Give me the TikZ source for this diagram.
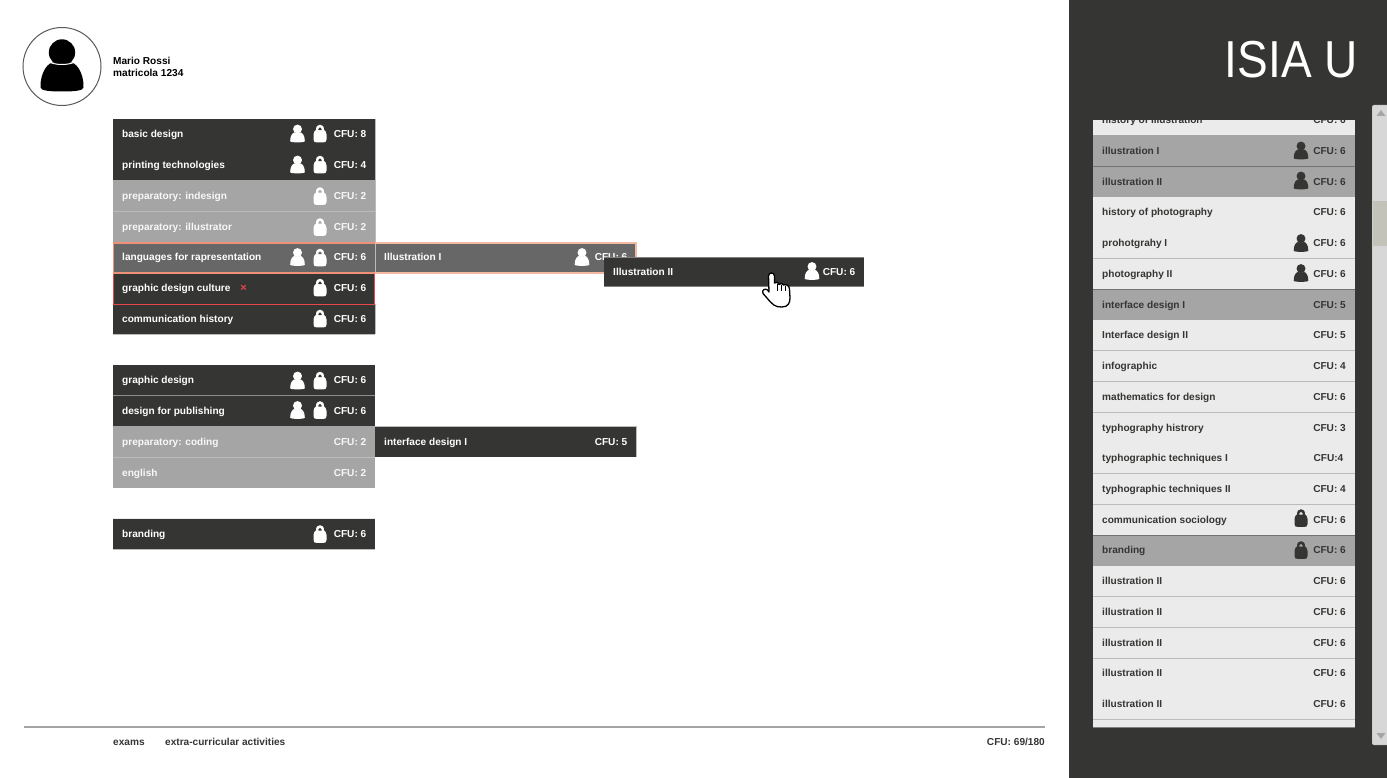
\documentclass[tikz,border=0pt]{standalone}
\usepackage{graphicx}
\usepackage{fontspec}
\setmainfont{Liberation Sans}
\definecolor{dk}{HTML}{353533}
\definecolor{gr}{HTML}{A5A5A5}
\definecolor{md}{HTML}{676767}
\definecolor{lt}{HTML}{EBEBEB}
\definecolor{ln}{HTML}{BBBBBB}
\definecolor{org}{HTML}{EE9178}
\definecolor{orl}{HTML}{F5B8A2}
\definecolor{rd}{HTML}{E8474A}
\tikzset{
  lbl/.style={inner sep=0pt,anchor=base west,font=\fontsize{10.1}{12}\bfseries},
  cfu/.style={inner sep=0pt,anchor=base east,font=\fontsize{10.1}{12}\bfseries},
  foot/.style={lbl,text=dk},
}
% person icon: x y scale colour
\newcommand\personicon[4]{%
  \begin{scope}[shift={(#1,#2)},scale=#3]
    \fill[#4] (-21.5,22) .. controls (-22,6) and (-13,-4) .. (-8,-3) .. controls (-3,0) and (3,0) .. (8,-3)
       .. controls (13,-4) and (22,6) .. (21.5,22) .. controls (21.5,25.5) and (10,26) .. (0,26) .. controls (-10,26) and (-21.5,25.5) .. (-21.5,22) -- cycle;
    \fill[#4] (0,-13) circle (13.2);
  \end{scope}}
% lock icon: x y colour hole-colour
\newcommand\lockicon[4]{%
  \fill[#3] (#1-6.5,#2+6) .. controls (#1-6.5,#2+8.8) and (#1-5,#2+8.8) .. (#1-3.5,#2+8.8) -- (#1+3.5,#2+8.8)
     .. controls (#1+5,#2+8.8) and (#1+6.5,#2+8.8) .. (#1+6.5,#2+6) -- (#1+6.5,#2+1)
     .. controls (#1+6.5,#2-1.5) and (#1+5,#2-3) .. (#1+4,#2-3.5)
     .. controls (#1+4,#2-7) and (#1+2.5,#2-8.8) .. (#1,#2-8.8)
     .. controls (#1-2.5,#2-8.8) and (#1-4,#2-7) .. (#1-4,#2-3.5)
     .. controls (#1-5,#2-3) and (#1-6.5,#2-1.5) .. (#1-6.5,#2+1) -- cycle;
  \fill[#4] (#1-1.6,#2-3.4) -- (#1-1.6,#2-4.6) .. controls (#1-1.6,#2-6.5) and (#1+1.6,#2-6.5) .. (#1+1.6,#2-4.6) -- (#1+1.6,#2-3.4) -- cycle;}
% row: name x-left y-top x-right y-bottom fill text-colour label cfu
\newcommand\rowbox[9]{%
  \fill[#6] (#2,#3) rectangle (#4,#5);
  \node[lbl,text=#7] (#1l) at (#2+9,{(#3+#5)/2+3.5}) {#8};
  \node[cfu,text=#7] (#1c) at (#4-8.5,{(#3+#5)/2+3.5}) {#9};}
% panel row: name centre-y label cfu
\newcommand\prow[4]{%
  \node[lbl,text=dk] (#1l) at (1102,#2+3.5) {#3};
  \node[cfu,text=dk] (#1c) at (1346,#2+3.5) {#4};}
\begin{document}
\begin{tikzpicture}[x=1pt,y=-1pt,line cap=butt]
\useasboundingbox (0,0) rectangle (1387,778);
\fill[white] (0,0) rectangle (1387,778);
% right panel
\fill[dk] (1069,0) rectangle (1387,778);
\node[inner sep=0pt,anchor=base east,text=white,font=\fontsize{52}{52}\selectfont] (logo) at (1358,78) {\scalebox{.885}[1]{ISIA U}};
% scrollbar
\fill[rounded corners=2pt,fill=ln!70!white] (1372,105) rectangle (1392,745);
\fill[fill=ln!70!white!85!white] (1373,106) rectangle (1387,744);
\fill[fill=black!28!white!95!yellow] (1373,201) rectangle (1387,246);
\fill[gr] (1376.5,116) -- (1381,110) -- (1385.5,116) -- cycle;
\fill[gr] (1376.5,733) -- (1381,739) -- (1385.5,733) -- cycle;
% panel list
\begin{scope}
\clip (1093,120) rectangle (1355,727.5);
\fill[lt] (1093,120) rectangle (1355,727);
\fill[gr] (1093,135.5) rectangle (1355,197);
\fill[gr] (1093,289.5) rectangle (1355,320);
\fill[gr] (1093,535.5) rectangle (1355,566);
\foreach \yy in {258,289,350,381,412,473,504,535,596,627,658,719}
  \draw[ln,line width=.8pt] (1093,\yy+.5) -- (1355,\yy+.5);
\draw[black!55,line width=.8pt] (1093,166.3) -- (1355,166.3);
\draw[black!55,line width=.8pt] (1093,289.5) -- (1355,289.5);
\draw[black!55,line width=.8pt] (1093,535.5) -- (1355,535.5);
\draw[black!50,line width=1pt] (1093,727) -- (1355,727);
\prow{pa}{120.5}{history of illustration}{CFU: 6}
\end{scope}
\prow{pb}{151}{illustration I}{CFU: 6}
\prow{pc}{182}{illustration II}{CFU: 6}
\prow{pd}{212}{history of photography}{CFU: 6}
\prow{pe}{243}{prohotgrahy I}{CFU: 6}
\prow{pf}{273.5}{photography II}{CFU: 6}
\prow{pg}{304.5}{interface design I}{CFU: 5}
\prow{ph}{334.5}{Interface design II}{CFU: 5}
\prow{pi}{365.5}{infographic}{CFU: 4}
\prow{pj}{396.5}{mathematics for design}{CFU: 6}
\prow{pk}{427.5}{typhography histrory}{CFU: 3}
\node[lbl,text=dk] (pll) at (1102,461) {typhographic techniques I};
\node[cfu,text=dk] (plc) at (1343.5,461) {CFU:4};
\prow{pm}{488.5}{typhographic techniques II}{CFU: 4}
\prow{pn}{519.5}{communication sociology}{CFU: 6}
\prow{po}{549.5}{branding}{CFU: 6}
\prow{pp}{580.5}{illustration II}{CFU: 6}
\prow{pq}{611.5}{illustration II}{CFU: 6}
\prow{pr}{642.5}{illustration II}{CFU: 6}
\prow{ps}{672.5}{illustration II}{CFU: 6}
\prow{pt}{703.5}{illustration II}{CFU: 6}
\personicon{1301}{150.5}{.34}{dk}
\personicon{1301}{180.5}{.34}{dk}
\personicon{1301}{243}{.34}{dk}
\personicon{1301}{273}{.34}{dk}
\lockicon{1301}{518}{dk}{lt}
\lockicon{1301}{550}{dk}{gr}
% avatar
\draw[black!65,line width=1pt] (62,66.5) circle (39);
\personicon{62}{65.5}{1}{black}
\draw[white,line width=1pt] (46,60) .. controls (52,66) and (72,66) .. (78,60);
\node[lbl,text=black] (n1) at (113,64.5) {Mario Rossi};
\node[lbl,text=black] (n2) at (113,76.5) {matricola 1234};
% first group
\rowbox{a}{113}{119}{375}{149.5}{dk}{white}{basic design}{CFU: 8}
\rowbox{b}{113}{149.5}{375}{180}{dk}{white}{printing technologies}{CFU: 4}
\rowbox{c}{113}{180.5}{375}{211.5}{gr}{white!92!gr}{preparatory: indesign}{CFU: 2}
\rowbox{d}{113}{211.5}{375}{242.5}{gr}{white!92!gr}{preparatory: illustrator}{CFU: 2}
\rowbox{f}{113}{272.5}{375}{303.5}{dk}{white}{graphic design culture}{CFU: 6}
\rowbox{g}{113}{304}{375}{334}{dk}{white}{communication history}{CFU: 6}
\draw[ln,line width=.8pt] (113,211.5) -- (375,211.5);
\draw[ln,line width=.8pt] (113,334.5) -- (375,334.5);
\draw[ln,line width=.8pt] (375,119) -- (375,242) (375,304) -- (375,334);
\draw[rd,line width=1pt] (113.5,273.5) rectangle (374.5,304);
\node[inner sep=0pt,anchor=center,text=rd,font=\fontsize{11}{11}\bfseries] (xx) at (243.5,288) {×};
% illustration I + languages
\rowbox{i}{375}{242}{636}{273}{md}{white}{Illustration I}{CFU: 6}
\draw[orl,line width=2pt] (375,243) -- (636,243) -- (636,272.5) -- (375,272.5);
\rowbox{e}{113}{242}{375}{273}{md}{white}{languages for rapresentation}{CFU: 6}
\draw[org,line width=1.6pt] (375,243) -- (113.5,243) -- (113.5,272.8) -- (375,272.8);
\draw[ln,line width=.8pt] (375,243) -- (375,272);
\personicon{582}{257}{.34}{white}
% illustration II
\fill[black!50] (603.5,257.5) rectangle (864,286.5);
\rowbox{j}{604}{258.5}{864}{286}{dk}{white}{Illustration II}{CFU: 6}
\personicon{812}{271}{.34}{white}
% second group
\rowbox{k}{113}{365}{375}{395}{dk}{white}{graphic design}{CFU: 6}
\rowbox{l}{113}{395}{375}{426}{dk}{white}{design for publishing}{CFU: 6}
\rowbox{m}{113}{426}{375}{457}{gr}{white!92!gr}{preparatory: coding}{CFU: 2}
\rowbox{o}{113}{457}{375}{488}{gr}{white!92!gr}{english}{CFU: 2}
\draw[black!45,line width=.8pt] (113,395.5) -- (375,395.5);
\draw[ln,line width=.8pt] (113,457.5) -- (375,457.5);
\rowbox{q}{375}{426.5}{636}{457}{dk}{white}{interface design I}{CFU: 5}
\draw[ln,line width=.8pt] (375,426.5) -- (636,426.5) -- (636,457);
% third group
\rowbox{r}{113}{519}{375}{549}{dk}{white}{branding}{CFU: 6}
\draw[ln,line width=.8pt] (113,549.5) -- (375,549.5);
\draw[lt,line width=.8pt] (113,518.7) -- (375,518.7);
% icons on left rows
\foreach \yy in {133.5,164.5,257,380.5,410}
  \personicon{297.5}{\yy}{.34}{white};
\lockicon{320}{133.5}{white}{dk}
\lockicon{320}{164.5}{white}{dk}
\lockicon{320}{196}{white}{gr}
\lockicon{320}{227}{white}{gr}
\lockicon{320}{257.5}{white}{md}
\lockicon{320}{287.5}{white}{dk}
\lockicon{320}{318.5}{white}{dk}
\lockicon{320}{380.5}{white}{dk}
\lockicon{320}{410}{white}{dk}
\lockicon{320}{534}{white}{dk}
% hand cursor
\draw[black,fill=white,line width=1.3pt,line join=round]
  (768.5,276) .. controls (768.5,272) and (774.5,272) .. (774.5,276) -- (774.5,283)
  .. controls (776,281.5) and (779,282) .. (779,284.5)
  .. controls (780,283) and (783,283) .. (783.5,285)
  .. controls (785,284) and (789.5,285) .. (789.5,289)
  -- (790,298) .. controls (790,303) and (788,307) .. (782,307)
  .. controls (775,307.5) and (772,304) .. (767,298)
  -- (763,293.5) .. controls (761.5,290) and (765,288) .. (767.5,290)
  -- (769,292) -- cycle;
\draw[black,line width=.9pt] (777.6,284) -- (777.6,291) (781.6,285) -- (781.6,291) (785.6,286) -- (785.6,291);
% footer
\draw[gr,line width=1.6pt] (24,727) -- (1045,727);
\node[foot] (f1) at (113,745.5) {exams};
\node[foot] (f2) at (165,745.5) {extra-curricular activities};
\node[cfu,text=dk] (f3) at (1045,745.5) {CFU: 69/180};
\end{tikzpicture}
\end{document}
